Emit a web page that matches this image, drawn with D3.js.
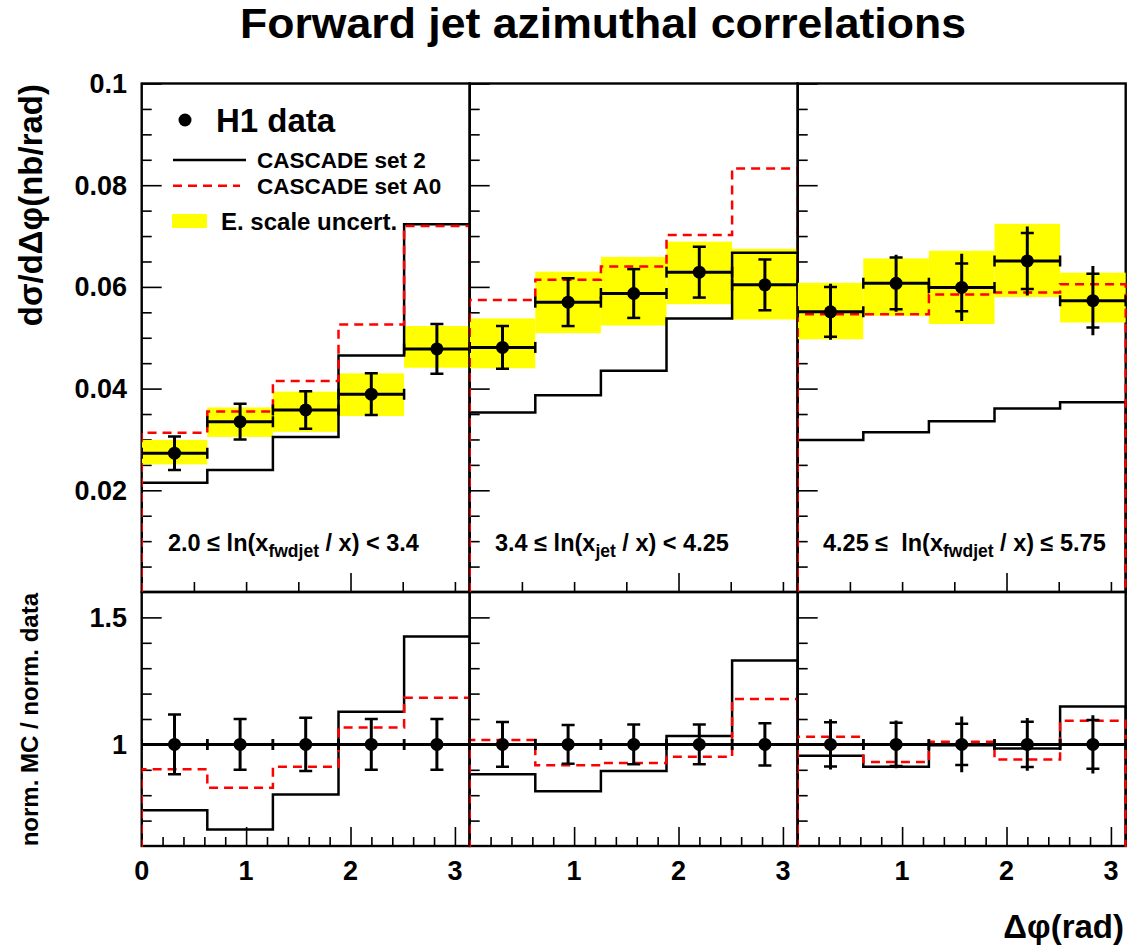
<!DOCTYPE html>
<html><head><meta charset="utf-8">
<script src="https://cdn.jsdelivr.net/npm/d3@7"></script>
<style>
body{margin:0;background:#fff}
svg{display:block;font-family:"Liberation Sans",Arial,Helvetica,sans-serif;font-weight:bold}
</style>
</head><body>
<svg id="c" width="1132" height="948"></svg>
<script>
// ---------- data ----------
const binEdges   = [0, 0.6283, 1.2566, 1.8850, 2.5133, 3.1416];
const binCenters = [0.3142, 0.9425, 1.5708, 2.1991, 2.8274];

// panel 1 : 2.0 <= ln(x_fwdjet/x) < 3.4
const dataP1    = [0.0273, 0.0335, 0.0358, 0.0389, 0.0478];
const statP1    = [0.0033, 0.0035, 0.0037, 0.0041, 0.0049];
const totP1     = [0.0034, 0.0036, 0.0038, 0.0042, 0.0050];
const bandLoP1  = [0.0251, 0.0305, 0.0315, 0.0346, 0.0441];
const bandHiP1  = [0.0299, 0.0363, 0.0394, 0.0430, 0.0523];
const set2P1    = [0.0215, 0.0240, 0.0305, 0.0465, 0.0723];
const setA0P1   = [0.0313, 0.0355, 0.0415, 0.0526, 0.0720];
// panel 2 : 3.4 <= ln(x_jet/x) < 4.25
const dataP2    = [0.0481, 0.0570, 0.0587, 0.0629, 0.0604];
const statP2    = [0.0042, 0.0047, 0.0048, 0.0050, 0.0050];
const totP2     = [0.0043, 0.0048, 0.0049, 0.0051, 0.0051];
const bandLoP2  = [0.0440, 0.0509, 0.0524, 0.0566, 0.0536];
const bandHiP2  = [0.0538, 0.0630, 0.0659, 0.0689, 0.0675];
const set2P2    = [0.0353, 0.0387, 0.0435, 0.0538, 0.0667];
const setA0P2   = [0.0574, 0.0614, 0.0640, 0.0702, 0.0833];
// panel 3 : 4.25 <= ln(x_fwdjet/x) <= 5.75
const dataP3    = [0.0551, 0.0607, 0.0599, 0.0651, 0.0573];
const statP3    = [0.0049, 0.0051, 0.0047, 0.0055, 0.0053];
const totP3     = [0.0055, 0.0056, 0.0066, 0.0068, 0.0068];
const bandLoP3  = [0.0497, 0.0543, 0.0527, 0.0580, 0.0530];
const bandHiP3  = [0.0608, 0.0656, 0.0671, 0.0724, 0.0628];
const set2P3    = [0.0299, 0.0314, 0.0336, 0.0361, 0.0373];
const setA0P3   = [0.0546, 0.0546, 0.0585, 0.0589, 0.0605];

// ratio panels (norm. MC / norm. data)
const ratioData   = [1, 1, 1, 1, 1];
const rStatP1 = [0.118, 0.100, 0.105, 0.100, 0.100];
const rTotP1  = [0.120, 0.102, 0.106, 0.102, 0.101];
const rSet2P1 = [0.741, 0.665, 0.803, 1.129, 1.425];
const rA0P1   = [0.902, 0.829, 0.912, 1.067, 1.184];
const rStatP2 = [0.088, 0.076, 0.078, 0.078, 0.083];
const rTotP2  = [0.089, 0.077, 0.079, 0.079, 0.084];
const rSet2P2 = [0.882, 0.816, 0.895, 1.033, 1.330];
const rA0P2   = [1.017, 0.918, 0.927, 0.951, 1.179];
const rStatP3 = [0.087, 0.085, 0.081, 0.089, 0.096];
const rTotP3  = [0.099, 0.094, 0.110, 0.104, 0.115];
const rSet2P3 = [0.955, 0.912, 0.997, 0.984, 1.149];
const rA0P3   = [1.030, 0.931, 1.010, 0.941, 1.093];

// ticks / labels
const yTopMajor = [0.02, 0.04, 0.06, 0.08, 0.1];
const yTopLabels = ["0.02", "0.04", "0.06", "0.08", "0.1"];
const yBotMajor = [1, 1.5];
const yBotLabels = ["1", "1.5"];
const xMajor = [0, 1, 2, 3];
const xLabels = ["0", "1", "2", "3"];

// ---------- layout ----------
const panels = [
  {data:dataP1, stat:statP1, tot:totP1, lo:bandLoP1, hi:bandHiP1, s2:set2P1, a0:setA0P1,
   rStat:rStatP1, rTot:rTotP1, rS2:rSet2P1, rA0:rA0P1},
  {data:dataP2, stat:statP2, tot:totP2, lo:bandLoP2, hi:bandHiP2, s2:set2P2, a0:setA0P2,
   rStat:rStatP2, rTot:rTotP2, rS2:rSet2P2, rA0:rA0P2},
  {data:dataP3, stat:statP3, tot:totP3, lo:bandLoP3, hi:bandHiP3, s2:set2P3, a0:setA0P3,
   rStat:rStatP3, rTot:rTotP3, rS2:rSet2P3, rA0:rA0P3}
];
const panelX0 = [141.7, 469.7, 797.7];
const panelW = 328;
const topY0 = 83.5, midY = 592, botY1 = 846;

const svg = d3.select("#c");
const yTop = d3.scaleLinear().domain([0, 0.1]).range([midY, topY0]);
const yBot = d3.scaleLinear().domain([0.6, 1.6]).range([botY1, midY]);

// title
svg.append("text").attr("x", 240).attr("y", 38)
  .attr("font-size", 43).attr("textLength", 726).attr("lengthAdjust", "spacingAndGlyphs")
  .text("Forward jet azimuthal correlations");

const defs = svg.append("defs");

panels.forEach((p, i) => {
  const x0 = panelX0[i];
  const x = d3.scaleLinear().domain([0, Math.PI]).range([x0, x0 + panelW]);
  const g = svg.append("g");

  ["t","b"].forEach(k => {
    defs.append("clipPath").attr("id", `clip${k}${i}`).append("rect")
      .attr("x", x0).attr("width", panelW + 1)
      .attr("y", k === "t" ? topY0 - 1 : midY)
      .attr("height", k === "t" ? midY - topY0 + 1 : botY1 - midY + 1);
  });

  // frames
  g.append("rect").attr("x", x0).attr("y", topY0).attr("width", panelW).attr("height", midY - topY0)
    .attr("fill", "none").attr("stroke", "#000").attr("stroke-width", 2.4);
  g.append("rect").attr("x", x0).attr("y", midY).attr("width", panelW).attr("height", botY1 - midY)
    .attr("fill", "none").attr("stroke", "#000").attr("stroke-width", 2.4);

  // y ticks top (inside, from left)
  const yMinorT = d3.range(0.005, 0.1, 0.005).filter(v => !yTopMajor.some(m => Math.abs(m - v) < 1e-6));
  g.append("g").attr("transform", `translate(${x0},0)`)
    .call(d3.axisRight(yTop).tickValues(yTopMajor).tickSize(20).tickFormat(""))
    .call(a => a.select(".domain").remove());
  g.append("g").attr("transform", `translate(${x0},0)`)
    .call(d3.axisRight(yTop).tickValues(yMinorT).tickSize(10).tickFormat(""))
    .call(a => a.select(".domain").remove());
  // y ticks bottom
  const yMinorB = d3.range(0.7, 1.6, 0.1).filter(v => !yBotMajor.some(m => Math.abs(m - v) < 1e-6));
  g.append("g").attr("transform", `translate(${x0},0)`)
    .call(d3.axisRight(yBot).tickValues(yBotMajor).tickSize(20).tickFormat(""))
    .call(a => a.select(".domain").remove());
  g.append("g").attr("transform", `translate(${x0},0)`)
    .call(d3.axisRight(yBot).tickValues(yMinorB).tickSize(10).tickFormat(""))
    .call(a => a.select(".domain").remove());
  // x ticks upper panel bottom edge (0.5 steps, 2 long)
  g.append("g").attr("transform", `translate(0,${midY})`)
    .call(d3.axisTop(x).tickValues([0.5, 1, 1.5, 2.5, 3]).tickSize(10).tickFormat(""))
    .call(a => a.select(".domain").remove());
  g.append("g").attr("transform", `translate(0,${midY})`)
    .call(d3.axisTop(x).tickValues([2]).tickSize(19).tickFormat(""))
    .call(a => a.select(".domain").remove());
  // x ticks lower panel
  const xMinor = d3.range(0.2, 3.15, 0.2).filter(v => Math.abs(v - Math.round(v)) > 1e-6);
  g.append("g").attr("transform", `translate(0,${botY1})`)
    .call(d3.axisTop(x).tickValues(xMajor.slice(1)).tickSize(19).tickFormat(""))
    .call(a => a.select(".domain").remove());
  g.append("g").attr("transform", `translate(0,${botY1})`)
    .call(d3.axisTop(x).tickValues(xMinor).tickSize(9).tickFormat(""))
    .call(a => a.select(".domain").remove());
  g.selectAll(".tick line").attr("stroke", "#000").attr("stroke-width", 1.6);

  // x labels
  xMajor.forEach((v, j) => {
    if (i > 0 && v === 0) return;
    g.append("text").attr("x", x(v)).attr("y", 880).attr("text-anchor", "middle")
      .attr("font-size", 27).text(xLabels[j]);
  });

  // ---- upper panel contents ----
  const gt = g.append("g").attr("clip-path", `url(#clipt${i})`);
  // yellow band
  gt.selectAll("rect.band").data(p.data).join("rect").attr("class", "band")
    .attr("x", (d, j) => x(binEdges[j])).attr("width", (d, j) => x(binEdges[j + 1]) - x(binEdges[j]))
    .attr("y", (d, j) => yTop(p.hi[j])).attr("height", (d, j) => yTop(p.lo[j]) - yTop(p.hi[j]))
    .attr("fill", "#ffff00");

  const histLine = (vals, ys, floor) => {
    const pts = [[binEdges[0], floor]];
    vals.forEach((v, j) => { pts.push([binEdges[j], v]); pts.push([binEdges[j + 1], v]); });
    pts.push([binEdges[binEdges.length - 1], floor]);
    return d3.line().x(d => x(d[0])).y(d => ys(d[1]))(pts);
  };
  gt.append("path").attr("d", histLine(p.s2, yTop, 0)).attr("fill", "none")
    .attr("stroke", "#000").attr("stroke-width", 2.5);
  gt.append("path").attr("d", histLine(p.a0, yTop, 0)).attr("fill", "none")
    .attr("stroke", "#ff0000").attr("stroke-width", 2.5).attr("stroke-dasharray", "9,6");

  const drawPoints = (gg, vals, stat, tot, ys) => {
    vals.forEach((v, j) => {
      const cx = x(binCenters[j]), cy = ys(v);
      const xl = x(binEdges[j]), xr = x(binEdges[j + 1]);
      gg.append("line").attr("x1", xl).attr("x2", xr).attr("y1", cy).attr("y2", cy)
        .attr("stroke", "#000").attr("stroke-width", 3);
      [xl, xr].forEach(xx => gg.append("line").attr("x1", xx).attr("x2", xx)
        .attr("y1", cy - 5.5).attr("y2", cy + 5.5).attr("stroke", "#000").attr("stroke-width", 2.5));
      gg.append("line").attr("x1", cx).attr("x2", cx).attr("y1", ys(v + tot[j])).attr("y2", ys(v - tot[j]))
        .attr("stroke", "#000").attr("stroke-width", 3);
      [v + stat[j], v - stat[j]].forEach(e => gg.append("line").attr("x1", cx - 6.5).attr("x2", cx + 6.5)
        .attr("y1", ys(e)).attr("y2", ys(e)).attr("stroke", "#000").attr("stroke-width", 2.5));
      gg.append("circle").attr("cx", cx).attr("cy", cy).attr("r", 6.5).attr("fill", "#000");
    });
  };
  drawPoints(gt, p.data, p.stat, p.tot, yTop);

  // ---- lower panel contents ----
  const gb = g.append("g").attr("clip-path", `url(#clipb${i})`);
  gb.append("path").attr("d", histLine(p.rS2, yBot, 0)).attr("fill", "none")
    .attr("stroke", "#000").attr("stroke-width", 2.5);
  gb.append("path").attr("d", histLine(p.rA0, yBot, 0)).attr("fill", "none")
    .attr("stroke", "#ff0000").attr("stroke-width", 2.5).attr("stroke-dasharray", "9,6");
  drawPoints(gb, ratioData, p.rStat, p.rTot, yBot);
});

// y labels (panel 1 only)
yTopMajor.forEach((v, j) => {
  svg.append("text").attr("x", 127).attr("y", yTop(v) + 9.5).attr("text-anchor", "end")
    .attr("font-size", 27).text(yTopLabels[j]);
});
yBotMajor.forEach((v, j) => {
  svg.append("text").attr("x", 127).attr("y", yBot(v) + 9.5).attr("text-anchor", "end")
    .attr("font-size", 27).text(yBotLabels[j]);
});

// axis titles
svg.append("text").attr("transform", "translate(42,84) rotate(-90)").attr("text-anchor", "end")
  .attr("font-size", 33).text("dσ/dΔφ(nb/rad)");
svg.append("text").attr("transform", "translate(38,593) rotate(-90)").attr("text-anchor", "end")
  .attr("font-size", 24).text("norm. MC / norm. data");
svg.append("text").attr("x", 1124).attr("y", 938).attr("text-anchor", "end")
  .attr("font-size", 33).text("Δφ(rad)");

// panel labels
const panelLabelParts = [
  ["2.0 ≤ ln(x", "fwdjet", " / x) < 3.4"],
  ["3.4 ≤ ln(x", "jet", " / x) < 4.25"],
  ["4.25 ≤  ln(x", "fwdjet", " / x) ≤ 5.75"]
];
const panelLabelX = [168, 495, 823];
panelLabelParts.forEach((parts, i) => {
  const t = svg.append("text").attr("x", panelLabelX[i]).attr("y", 551).attr("font-size", 23.5)
    .style("white-space", "pre").attr("xml:space", "preserve");
  t.append("tspan").text(parts[0]);
  t.append("tspan").attr("dy", 6).attr("font-size", 17.5).text(parts[1]);
  t.append("tspan").attr("dy", -6).text(parts[2]);
});

// legend
svg.append("circle").attr("cx", 185).attr("cy", 120).attr("r", 6.5).attr("fill", "#000");
svg.append("text").attr("x", 216).attr("y", 132).attr("font-size", 33).text("H1 data");
svg.append("line").attr("x1", 173).attr("x2", 246).attr("y1", 160).attr("y2", 160)
  .attr("stroke", "#000").attr("stroke-width", 2.5);
svg.append("text").attr("x", 257).attr("y", 168).attr("font-size", 22.5).text("CASCADE set 2");
svg.append("line").attr("x1", 173).attr("x2", 240).attr("y1", 185.7).attr("y2", 185.7)
  .attr("stroke", "#ff0000").attr("stroke-width", 2.5).attr("stroke-dasharray", "9,6");
svg.append("text").attr("x", 257).attr("y", 194).attr("font-size", 22.5).text("CASCADE set A0");
svg.append("rect").attr("x", 172).attr("y", 214).attr("width", 35).attr("height", 14).attr("fill", "#ffff00");
svg.append("text").attr("x", 221).attr("y", 230).attr("font-size", 24).text("E. scale uncert.");
</script>
</body></html>
